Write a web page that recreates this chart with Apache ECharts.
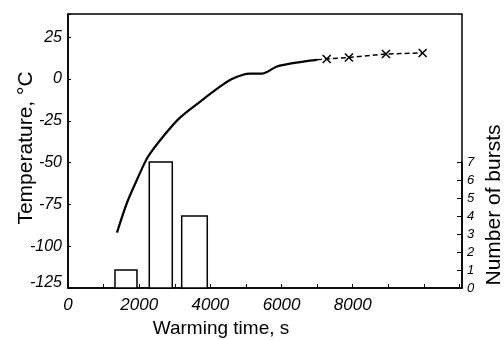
<!DOCTYPE html>
<html>
<head>
<meta charset="utf-8">
<script src="https://cdn.jsdelivr.net/npm/echarts@6/dist/echarts.min.js"></script>
<style>
  html, body { margin: 0; padding: 0; background: #fff; }
  #main { width: 504px; height: 340px; }
</style>
</head>
<body>
<div id="main"></div>
<script>
// warming curve (solid part), time in s, temperature in °C
const curveTime = [1376, 1657, 1938, 2247, 2669, 3146, 3708, 4270, 4607, 4916, 5112, 5449, 5590, 5871, 6236, 6650, 6994];
const curveTemp = [-91.9, -74.0, -60.2, -46.5, -34.5, -23.1, -13.6, -4.6, 0, 2.6, 3.2, 3.2, 4.2, 7.5, 9.2, 10.6, 11.5];

// measured points (crosses) joined by the dashed line
const crossTime = [7267, 7893, 8933, 9963];
const crossTemp = [12.0, 12.9, 15.0, 15.6];

// burst histogram
const binStart = [1320, 2284, 3194];
const binEnd = [1938, 2930, 3913];
const bursts = [1, 7, 4];

const tickFont = { fontFamily: 'Liberation Sans', fontStyle: 'italic', fontSize: 16, color: '#000' };
const nameFont = { fontFamily: 'Liberation Sans', fontSize: 21, color: '#000' };

window.onload = function () {
  const chartDom = document.getElementById('main');
  const myChart = echarts.init(chartDom);

  const solidData = curveTime.map((t, i) => [t, curveTemp[i]]);
  const dashData = [{ value: solidData[solidData.length - 1], symbol: 'none' }]
    .concat(crossTime.map((t, i) => [t, crossTemp[i]]));
  const barData = bursts.map((n, i) => [binStart[i], binEnd[i], n]);

  const option = {
    animation: false,
    backgroundColor: '#fff',
    grid: [
      { left: 68, right: 42, top: 14, bottom: 52, outerBoundsMode: 'none', containLabel: false,
        show: true, borderColor: '#000', borderWidth: 1.5 },
      { left: 68, right: 42, top: 162, bottom: 52, outerBoundsMode: 'none', containLabel: false }
    ],
    xAxis: [
      {
        type: 'value', gridIndex: 0, min: 0, max: 11070, interval: 1000,
        name: 'Warming time, s', nameLocation: 'middle', nameGap: 31, nameMoveOverlap: false,
        nameTextStyle: Object.assign({}, nameFont, { fontSize: 19, padding: [0, 88, 0, 0] }),
        splitLine: { show: false },
        axisLine: { onZero: false, lineStyle: { color: '#000', width: 1.5 } },
        axisTick: { inside: true, length: 4, lineStyle: { color: '#000' } },
        axisLabel: Object.assign({
          margin: 9,
          formatter: v => (v % 2000 === 0 && v <= 8000 ? String(v) : '')
        }, tickFont, { fontSize: 17 })
      },
      { type: 'value', gridIndex: 1, min: 0, max: 11070, show: false, axisLine: { onZero: false } }
    ],
    yAxis: [
      {
        type: 'value', gridIndex: 0, min: -125, max: 38.9, interval: 25,
        name: 'Temperature, °C', nameLocation: 'middle', nameGap: 31, nameMoveOverlap: false,
        nameTextStyle: Object.assign({ padding: [0, 0, 0, 6] }, nameFont),
        splitLine: { show: false },
        axisLine: { onZero: false, lineStyle: { color: '#000', width: 1.5 } },
        axisTick: { inside: true, length: 3, lineStyle: { color: '#000' } },
        axisLabel: Object.assign({
          margin: 6,
          formatter: v => (v === -125 ? '{lo|-125}' : (v % 25 === 0 ? String(v) : '')),
          rich: { lo: Object.assign({ padding: [0, 0, 10, 0] }, tickFont) }
        }, tickFont)
      },
      {
        type: 'value', gridIndex: 1, position: 'right', min: 0, max: 7, interval: 1,
        name: 'Number of bursts', nameLocation: 'middle', nameGap: 22, nameMoveOverlap: false,
        nameTextStyle: Object.assign({ padding: [0, 0, 0, 40] }, nameFont),
        splitLine: { show: false },
        axisLine: { onZero: false, lineStyle: { color: '#000', width: 1.5 } },
        axisTick: { inside: true, length: 5, lineStyle: { color: '#000' } },
        axisLabel: Object.assign({ margin: 5 }, tickFont, { fontSize: 13 })
      }
    ],
    series: [
      {
        type: 'custom', xAxisIndex: 1, yAxisIndex: 1, z: 1,
        data: barData,
        renderItem: function (params, api) {
          const p0 = api.coord([api.value(0), api.value(2)]);
          const p1 = api.coord([api.value(1), 0]);
          return {
            type: 'rect',
            shape: { x: p0[0], y: p0[1], width: p1[0] - p0[0], height: p1[1] - p0[1] },
            style: { fill: '#fff', stroke: '#000', lineWidth: 1.5 }
          };
        }
      },
      {
        type: 'line', xAxisIndex: 0, yAxisIndex: 0, z: 3,
        data: solidData, smooth: 0.3, showSymbol: false,
        lineStyle: { color: '#000', width: 2.2 }
      },
      {
        type: 'line', xAxisIndex: 0, yAxisIndex: 0, z: 3,
        data: dashData,
        symbol: 'path://M0,0L10,10M10,0L0,10', symbolSize: 8,
        itemStyle: { color: '#000', borderColor: '#000', borderWidth: 1.5 },
        lineStyle: { color: '#000', width: 1.5, type: [5, 3] }
      }
    ]
  };

  option && myChart.setOption(option);
};
</script>
</body>
</html>
